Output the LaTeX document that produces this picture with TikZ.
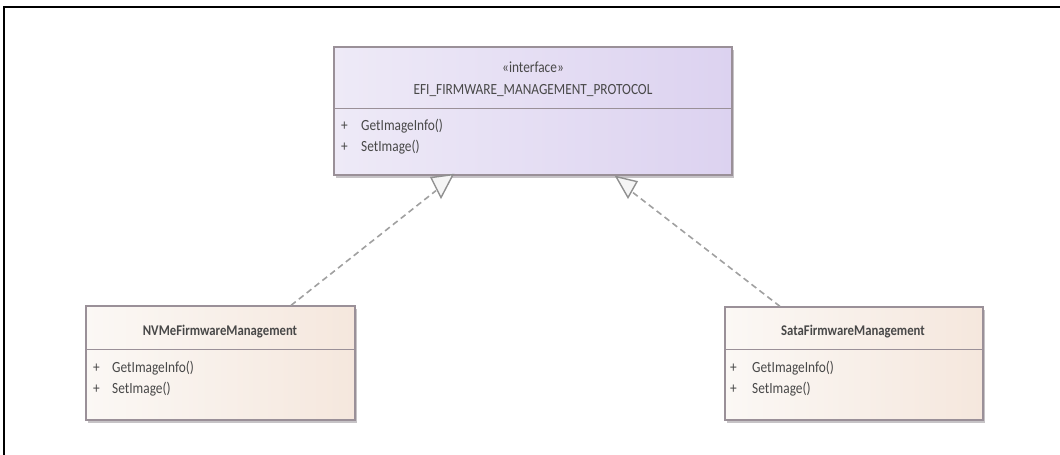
\documentclass[tikz,border=0pt]{standalone}
\usepackage{fontspec}
\setmainfont{Carlito}
\usetikzlibrary{calc}
\definecolor{txt}{HTML}{484848}
\definecolor{bord}{HTML}{9A9098}
\definecolor{lavL}{HTML}{EEEAF7}
\definecolor{lavR}{HTML}{DCD2F0}
\definecolor{beL}{HTML}{FBF8F5}
\definecolor{beR}{HTML}{F5E7DD}
\definecolor{dash}{HTML}{A0A0A0}
\definecolor{shad}{HTML}{B8B4B8}
\newcommand{\hsq}[1]{\scalebox{0.86}[1]{#1}}
\tikzset{
  ifacebox/.style={draw=bord, line width=1.2pt, left color=lavL, right color=lavR, inner sep=0pt},
  implbox/.style={draw=bord, line width=1.2pt, left color=beL, right color=beR, inner sep=0pt},
  shadowbox/.style={fill=shad, draw=none, inner sep=0pt, opacity=0.8},
  divider/.style={draw=bord, line width=1pt},
  stereo/.style={font=\fontsize{15.5}{15.5}\selectfont, text=txt, anchor=base, inner sep=0pt},
  cname/.style={font=\fontsize{15.5}{15.5}\selectfont, text=txt, anchor=base, inner sep=0pt},
  bname/.style={font=\fontsize{14.8}{14.8}\selectfont\bfseries, text=txt, anchor=base, inner sep=0pt},
  member/.style={font=\fontsize{15.5}{15.5}\selectfont, text=txt, anchor=base west, inner sep=0pt},
  realize/.style={draw=dash, line width=1.6pt, dash pattern=on 6pt off 4pt},
  openhead/.style={draw=dash!90!black, line width=1.4pt, fill=white!92!gray, line join=miter},
  frameline/.style={draw=black, line width=2.2pt}
}
\begin{document}
\begin{tikzpicture}[x=1pt,y=-1pt]
\useasboundingbox (0,0) rectangle (1060,455);
\draw[frameline] (4,455) -- (4,7) -- (1060,7);

% shadows
\node[shadowbox, minimum width=398pt, minimum height=128pt] (ifaceSh) at (535,114) {};
\node[shadowbox, minimum width=269pt, minimum height=114pt] (nvmeSh) at (222.5,366) {};
\node[shadowbox, minimum width=258pt, minimum height=113pt] (sataSh) at (856,366.5) {};

% interface box
\node[ifacebox, minimum width=398pt, minimum height=128pt] (iface) at (533,111) {};
\draw[divider] (iface.west |- 0,108) coordinate (ifdl) -- (iface.east |- 0,108) coordinate (ifdr);
\node[stereo] (ifst) at (533,72) {\hsq{«interface»}};
\node[cname] (ifnm) at (533,94) {\hsq{EFI\_FIRMWARE\_MANAGEMENT\_PROTOCOL}};
\node[member] (ifp1) at (341,130) {\hsq{+}};
\node[member] (ifm1) at (361,130) {\hsq{GetImageInfo()}};
\node[member] (ifp2) at (341,151) {\hsq{+}};
\node[member] (ifm2) at (361,151) {\hsq{SetImage()}};

% NVMe box
\node[implbox, minimum width=269pt, minimum height=114pt] (nvme) at (220.5,363) {};
\draw[divider] (nvme.west |- 0,349) -- (nvme.east |- 0,349);
\node[bname] (nvnm) at (220,335) {\hsq{NVMeFirmwareManagement}};
\node[member] (nvp1) at (93,372) {\hsq{+}};
\node[member] (nvm1) at (112,372) {\hsq{GetImageInfo()}};
\node[member] (nvp2) at (93,393) {\hsq{+}};
\node[member] (nvm2) at (112,393) {\hsq{SetImage()}};

% Sata box
\node[implbox, minimum width=258pt, minimum height=113pt] (sata) at (854,363.5) {};
\draw[divider] (sata.west |- 0,349) -- (sata.east |- 0,349);
\node[bname] (sanm) at (853,335) {\hsq{SataFirmwareManagement}};
\node[member] (sap1) at (730,372) {\hsq{+}};
\node[member] (sam1) at (752,372) {\hsq{GetImageInfo()}};
\node[member] (sap2) at (730,393) {\hsq{+}};
\node[member] (sam2) at (752,393) {\hsq{SetImage()}};

% realization connectors
\coordinate (nvTop) at ($(nvme.north)+(70.5,0)$);
\coordinate (saTop) at ($(sata.north)+(-74,0)$);
\coordinate (hL) at ($(iface.south)+(-97,15)$);
\coordinate (hR) at ($(iface.south)+(100,17)$);
\draw[realize] (nvTop) -- (hL);
\draw[realize] (saTop) -- (hR);
\draw[openhead] ($(iface.south)+(-102,2)$) -- ($(iface.south)+(-80,-1)$) -- ($(iface.south)+(-92,22)$) -- cycle;
\draw[openhead] ($(iface.south)+(83,1)$) -- ($(iface.south)+(104,6)$) -- ($(iface.south)+(95,22)$) -- cycle;
\end{tikzpicture}
\end{document}
